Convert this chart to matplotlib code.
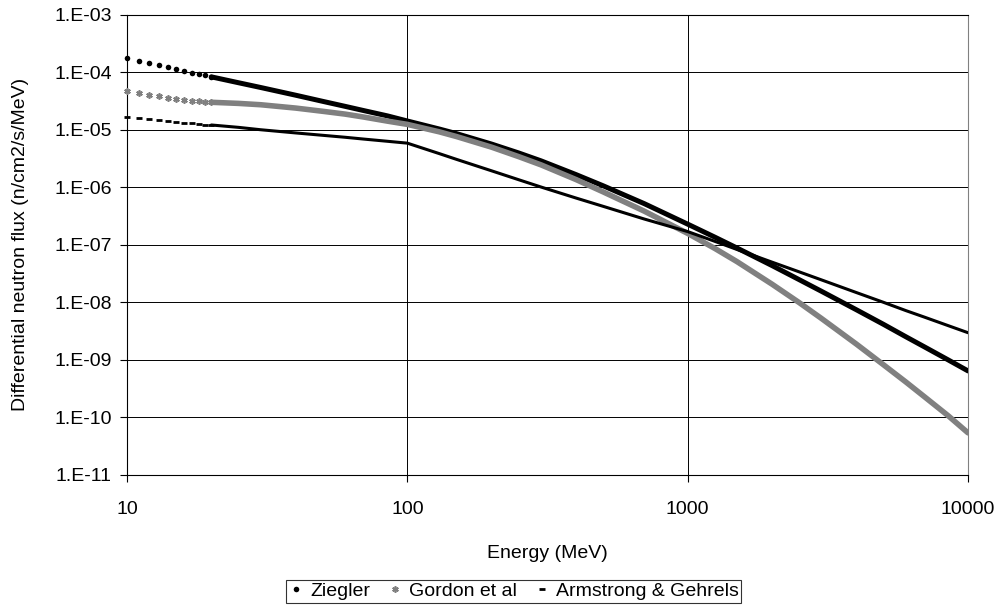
#--Neutron flux spectra: Ziegler, Gordon et al, Armstrong & Gehrels
import numpy as np
import matplotlib
matplotlib.use("Agg")
import matplotlib.pyplot as plt

plt.rcParams['font.family'] = ['Liberation Sans', 'DejaVu Sans']

#--Low energy part, drawn as separate markers (MeV)
e_pts = [10, 11, 12, 13, 14, 15, 16, 17, 18, 19, 20]
ziegler_pts = [1.75e-4, 1.55e-4, 1.43e-4, 1.32e-4, 1.22e-4, 1.12e-4,
               1.04e-4, 9.7e-5, 9.3e-5, 8.8e-5, 8.3e-5]
gordon_pts = [4.72e-5, 4.35e-5, 4.05e-5, 3.80e-5, 3.60e-5, 3.43e-5,
              3.30e-5, 3.20e-5, 3.12e-5, 3.06e-5, 3.00e-5]
armstrong_pts = [1.65e-5, 1.58e-5, 1.52e-5, 1.47e-5, 1.42e-5, 1.37e-5,
                 1.33e-5, 1.30e-5, 1.26e-5, 1.23e-5, 1.21e-5]

#--Higher energies, where the markers merge into a thick band
e_band = [20, 25, 30, 40, 50, 60, 70, 85, 100, 130, 150, 200, 250, 300,
          400, 500, 700, 1000, 1250, 1500, 2000, 2500, 3000, 4000, 5000,
          6000, 7000, 8500, 10000]
ziegler_band = [8.3e-5, 6.56e-5, 5.42e-5, 3.98e-5, 3.11e-5, 2.55e-5, 2.15e-5,
                1.74e-5, 1.42e-5, 1.03e-5, 8.55e-6, 5.63e-6, 3.94e-6, 2.88e-6,
                1.66e-6, 1.06e-6, 5.2e-7, 2.29e-7, 1.36e-7, 8.8e-8, 4.36e-8,
                2.48e-8, 1.56e-8, 7.43e-9, 4.14e-9, 2.53e-9, 1.68e-9,
                1.0e-9, 6.44e-10]
gordon_band = [3.0e-5, 2.87e-5, 2.72e-5, 2.38e-5, 2.09e-5, 1.87e-5, 1.66e-5,
               1.41e-5, 1.24e-5, 9.2e-6, 7.6e-6, 4.97e-6, 3.4e-6, 2.45e-6,
               1.36e-6, 8.3e-7, 3.85e-7, 1.58e-7, 8.65e-8, 5.1e-8, 2.07e-8,
               9.9e-9, 5.26e-9, 1.88e-9, 8.2e-10, 4.14e-10, 2.28e-10,
               1.07e-10, 5.4e-11]
armstrong_band = [1.21e-5, 1.1e-5, 1.0e-5, 8.8e-6, 8.0e-6, 7.4e-6, 6.88e-6,
                  6.3e-6, 5.85e-6, 3.85e-6, 3.05e-6, 1.93e-6, 1.35e-6,
                  1.01e-6, 6.5e-7, 4.66e-7, 2.81e-7, 1.7e-7, 1.15e-7,
                  8.3e-8, 5.0e-8, 3.39e-8, 2.46e-8, 1.48e-8, 1.0e-8,
                  7.2e-9, 5.53e-9, 3.94e-9, 2.97e-9]

y_ticks = [1e-3, 1e-4, 1e-5, 1e-6, 1e-7, 1e-8, 1e-9, 1e-10, 1e-11]
y_labels = ['1.E-03', '1.E-04', '1.E-05', '1.E-06', '1.E-07',
            '1.E-08', '1.E-09', '1.E-10', '1.E-11']
x_ticks = [10, 100, 1000, 10000]
x_labels = ['10', '100', '1000', '10000']

gray = '#808080'
fs = 14

fig = plt.figure(figsize=(10.03, 6.11), dpi=100)
ax = fig.add_axes([0.1266, 0.2226, 0.8385, 0.7534])

#--Ziegler
ax.plot(e_band, ziegler_band, '-', color='black', lw=3.6,
        solid_capstyle='round', solid_joinstyle='round', zorder=3)
hz, = ax.plot(e_pts, ziegler_pts, 'o', color='black', ms=4.0, mew=0,
              ls='none', zorder=3, clip_on=False, label='Ziegler')
#--Gordon et al
ax.plot(e_band, gordon_band, '-', color=gray, lw=4.0,
        solid_capstyle='round', solid_joinstyle='round', zorder=4)
hg, = ax.plot(e_pts, gordon_pts, marker=(6, 2, 0), color=gray, ms=4.6,
              mew=1.2, ls='none', zorder=4, clip_on=False,
              label='Gordon et al')
#--Armstrong & Gehrels
ax.plot(e_band, armstrong_band, '-', color='black', lw=2.2,
        solid_capstyle='round', solid_joinstyle='round', zorder=5)
ha, = ax.plot(e_pts, armstrong_pts, '_', color='black', ms=5.0,
              mew=2.0, ls='none', zorder=5, clip_on=False,
              label='Armstrong & Gehrels')

ax.set_xscale('log')
ax.set_yscale('log')
ax.set_xlim(10, 10000)
ax.set_ylim(1e-11, 1e-3)
ax.set_xticks(x_ticks)
ax.set_xticklabels(x_labels)
ax.set_yticks(y_ticks)
ax.set_yticklabels(y_labels)
ax.minorticks_off()
ax.tick_params(axis='both', direction='out', length=5, width=0.8,
               labelsize=fs, color='black')
ax.tick_params(axis='x', pad=14)
ax.tick_params(axis='y', pad=6)
ax.grid(True, which='major', color='black', lw=0.7)
ax.set_axisbelow(True)

for s in ['left', 'bottom', 'top']:
    ax.spines[s].set_color('black')
    ax.spines[s].set_linewidth(0.8)
ax.spines['right'].set_color(gray)
ax.spines['right'].set_linewidth(0.8)

ax.set_xlabel('Energy (MeV)', fontsize=fs, labelpad=19)
ax.set_ylabel('Differential neutron flux (n/cm2/s/MeV)', fontsize=fs,
              labelpad=18)

leg = fig.legend(handles=[hz, hg, ha], loc='center',
                 bbox_to_anchor=(0.512, 0.032), ncol=3, fontsize=fs,
                 frameon=True, fancybox=False, edgecolor='black',
                 handlelength=0.8, handletextpad=0.3, columnspacing=0.9,
                 borderpad=0.15, borderaxespad=0)
leg.get_frame().set_linewidth(0.8)

fig.savefig('out.png', dpi=100)
